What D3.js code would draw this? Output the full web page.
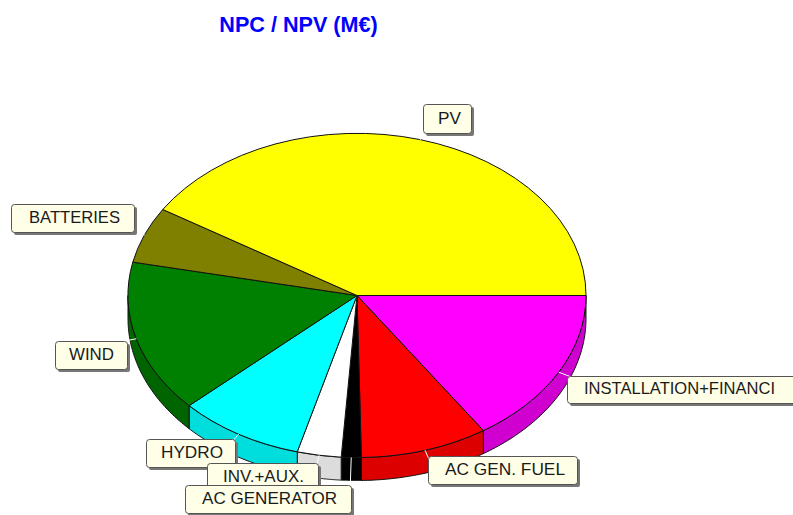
<!DOCTYPE html>
<html><head><meta charset="utf-8">
<script src="https://cdn.jsdelivr.net/npm/d3@7/dist/d3.min.js"></script>
<style>html,body{margin:0;padding:0;background:#fff}svg{display:block}</style>
</head><body><svg id="c" width="793" height="515"></svg>
<script>
// DATA (clockwise from 3 o'clock), share of NPC in %
const categories = ["INSTALLATION+FINANCI","AC GEN. FUEL","AC GENERATOR","INV.+AUX.","HYDRO","WIND","BATTERIES","PV"];
const shares = [15.7,9.0,1.4,3.1,8.9,15.2,5.6,41.1];
const title = "NPC / NPV (M€)";

// STYLE / LAYOUT
const topColors  = ["#ff00ff","#ff0000","#000000","#ffffff","#00ffff","#008000","#808000","#ffff00"];
const wallColors = ["#d000d0","#dd0000","#000000","#dcdcdc","#00dddd","#006400","#6c6c00","#dddd00"];
const labelBoxes = [[567,376,232,27],[428,456,149,28],[185,485,166,28],[207,463,111,28],[146,439,89,28],[55,341,72,28],[11,204,123,28],[423,104,48,29]];
const labelTextX = [584,445,202,223,161,69,29,438];
const labelTextW = [191,120,135,81,62,45,91,23];
const drawOrder = [7,6,5,0,1,4,3,2];
const cx=357, cy=295.5, rx=229, ry=162, depth=23;

const svg = d3.select("#c");
const x = d3.scaleLinear().domain([-1,1]).range([cx-rx,cx+rx]);
const y = d3.scaleLinear().domain([-1,1]).range([cy-ry,cy+ry]);
const px = a => x(Math.sin(a)), py = a => y(-Math.cos(a));

const arcs = d3.pie().sort(null).startAngle(Math.PI/2).endAngle(Math.PI*2.5)(shares);
const lineGen = d3.line().x(d=>d[0]).y(d=>d[1]);

// side wall
const walls = svg.append("g");
arcs.forEach((d,i)=>{
  const s=Math.max(d.startAngle,Math.PI/2), e=Math.min(d.endAngle,Math.PI*1.5);
  if(e<=s) return;
  const aa=d3.range(0,61).map(k=>s+(e-s)*k/60);
  const pts=[...aa.map(a=>[px(a),py(a)]),...aa.slice().reverse().map(a=>[px(a),py(a)+depth])];
  walls.append("path").attr("d",lineGen(pts)+"Z").attr("fill",wallColors[i])
    .attr("stroke","#111").attr("stroke-width",1).attr("stroke-linejoin","round");
});

// top face
const arc = d3.arc().innerRadius(0).outerRadius(1);
const face = svg.append("g").attr("transform",`translate(${cx},${cy}) scale(${rx},${ry})`);
face.selectAll("path").data(arcs).join("path").attr("d",arc)
  .attr("fill",(d,i)=>topColors[i]).attr("stroke","#111").attr("stroke-width",1)
  .attr("vector-effect","non-scaling-stroke").attr("stroke-linejoin","round");

// leaders
const mid=d=>(d.startAngle+d.endAngle)/2;
svg.append("g").selectAll("line").data(arcs).join("line")
  .attr("x1",d=>px(mid(d))).attr("y1",d=>py(mid(d)))
  .attr("x2",d=>cx+(px(mid(d))-cx)*1.16).attr("y2",d=>cy+(py(mid(d))-cy)*1.16)
  .attr("stroke","#fff").attr("stroke-width",1);

// labels
const lab = svg.append("g");
drawOrder.forEach(i=>{
  const [bx,by,bw,bh]=labelBoxes[i];
  const g=lab.append("g");
  g.append("rect").attr("x",bx+3).attr("y",by+3).attr("width",bw).attr("height",bh).attr("rx",2).attr("fill","#777");
  g.append("rect").attr("x",bx+.5).attr("y",by+.5).attr("width",bw).attr("height",bh).attr("rx",3)
    .attr("fill","#ffffe8").attr("stroke","#555").attr("stroke-width",1);
  g.append("text").attr("x",labelTextX[i]).attr("y",by+bh-9.5).text(categories[i])
    .attr("textLength",labelTextW[i]).attr("lengthAdjust","spacingAndGlyphs")
    .attr("font-family","'Liberation Sans',Arial,sans-serif").attr("font-size",17).attr("fill","#1a1a1a");
});

svg.append("text").attr("x",298.5).attr("y",32).attr("text-anchor","middle").text(title)
  .attr("font-family","'Liberation Sans',Arial,sans-serif").attr("font-weight","bold").attr("font-size",21.6).attr("fill","#0000ff");
</script></body></html>
